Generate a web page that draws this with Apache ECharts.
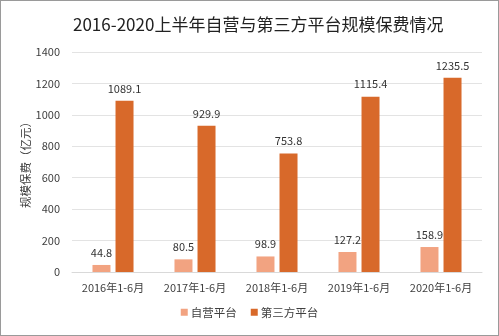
<!DOCTYPE html>
<html><head><meta charset="utf-8">
<script src="https://cdn.jsdelivr.net/npm/echarts@6/dist/echarts.min.js"></script>
<style>
html,body{margin:0;padding:0;background:#fff;}
#c{width:497px;height:334px;border:1px solid #9a9a9a;}
</style></head>
<body><div id="c"></div>
<script>
const categories = ['2016年1-6月','2017年1-6月','2018年1-6月','2019年1-6月','2020年1-6月'];
const selfOperated = [44.8, 80.5, 98.9, 127.2, 158.9];
const thirdParty = [1089.1, 929.9, 753.8, 1115.4, 1235.5];
const seriesNames = ['自营平台','第三方平台'];
const titleText = '2016-2020上半年自营与第三方平台规模保费情况';
const yName = '规模保费（亿元）';

const font = '"Noto Sans CJK SC", "Noto Sans", sans-serif';
const chart = echarts.init(document.getElementById('c'));
const labelCfg = {show:true, position:'top', distance:7, color:'#333', fontSize:11, fontFamily:font};
chart.setOption({
  animation:false,
  title:{text:titleText, left:67, top:10, textStyle:{fontSize:17, fontWeight:'normal', color:'#222', fontFamily:font}},
  legend:{bottom:12, left:'center', itemWidth:7, itemHeight:7, itemGap:14, icon:'rect',
    textStyle:{fontSize:11.5, color:'#404040', fontFamily:font, padding:[0,0,0,-2]}},
  grid:{left:71, right:16, top:51, bottom:63},
  xAxis:{type:'category', data:categories,
    axisLine:{lineStyle:{color:'#d9d9d9'}}, axisTick:{show:false},
    axisLabel:{color:'#404040', fontSize:11, margin:10, fontFamily:font}},
  yAxis:{type:'value', min:0, max:1400, interval:200,
    name:yName, nameLocation:'middle', nameGap:41, nameRotate:90, nameMoveOverlap:false,
    nameTextStyle:{fontSize:11.5, color:'#404040', fontFamily:font},
    axisLine:{show:false}, axisTick:{show:false},
    axisLabel:{color:'#404040', fontSize:11, margin:12, fontFamily:font, formatter:v => String(v)},
    splitLine:{lineStyle:{color:'#e3e3e3'}}},
  series:[
    {name:seriesNames[0], type:'bar', data:selfOperated, barWidth:18, barGap:'28%',
     itemStyle:{color:'#F2A381'}, label:labelCfg},
    {name:seriesNames[1], type:'bar', data:thirdParty, barWidth:18,
     itemStyle:{color:'#D8692A'}, label:labelCfg}
  ]
});
</script></body></html>
